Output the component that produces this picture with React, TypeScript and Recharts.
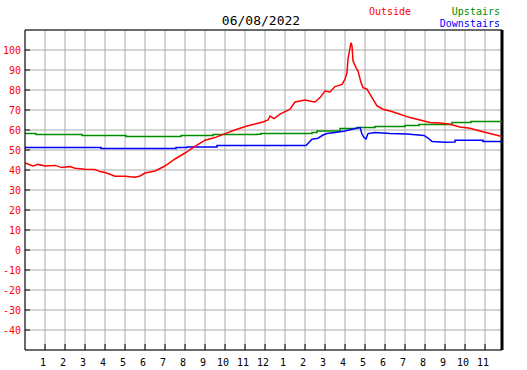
import React from "react";
import {
  LineChart,
  Line,
  XAxis,
  YAxis,
  CartesianGrid,
  ReferenceLine,
} from "recharts";

const TITLE = "06/08/2022";
const LAST_HOUR = 23.85;

// hour-of-day ticks (1..11, 12, 1..11)
const hourTicks = [1, 2, 3, 4, 5, 6, 7, 8, 9, 10, 11, 12, 13, 14, 15, 16, 17, 18, 19, 20, 21, 22, 23];
const tempTicks = [-40, -30, -20, -10, 0, 10, 20, 30, 40, 50, 60, 70, 80, 90, 100];

// Outside (red)
const outsideHours = [
  0, 0.4, 0.65, 1.0, 1.5, 1.85, 2.25, 2.5, 3.0, 3.5, 3.75, 4.0, 4.25, 4.5, 5.0, 5.5, 5.75, 6.0,
  6.5, 7.0, 7.5, 8.0, 8.4, 9.0, 9.5, 10.0, 10.6, 11.1, 11.9, 12.15, 12.25, 12.45, 12.75, 13.25,
  13.5, 14.0, 14.35, 14.5, 14.75, 15.0, 15.25, 15.5, 15.85, 16.0, 16.1, 16.15, 16.3, 16.35, 16.4,
  16.55, 16.65, 16.8, 16.9, 17.1, 17.35, 17.6, 17.9, 18.25, 18.75, 19.25, 19.75, 20.25, 20.75,
  21.25, 21.75, 22.25, 22.75, 23.25, 23.85,
];
const outsideTemps = [
  43.5, 42, 42.8, 42, 42.3, 41.2, 41.7, 40.9, 40.4, 40.2, 39.2, 38.7, 37.9, 36.9, 36.9, 36.4, 37, 38.5,
  39.5, 42, 45.5, 48.5, 51.2, 54.9, 56.2, 58.2, 60.4, 62, 64, 65, 67, 65.7, 67.9, 70.4,
  74, 75, 74.3, 74, 76.2, 79.5, 79, 81.7, 82.8, 85.4, 88.7, 95.4, 103.7, 102, 94.5,
  91.2, 89.5, 83.7, 81.2, 80.4, 76.2, 72, 70.4, 69.5, 67.9, 66.2, 65, 63.7, 63.5,
  62.9, 61.5, 60.9, 59.5, 58.2, 56.7,
];

// Upstairs (green), value holds until next reading
const upstairsHours = [0, 0.55, 2.85, 5.05, 7.8, 9.4, 11.6, 11.8, 14.35, 14.6, 15.75, 16.6, 17.5, 19.0, 19.7, 21.35, 22.3, LAST_HOUR];
const upstairsTemps = [58.2, 57.7, 57.2, 56.7, 57.2, 57.7, 57.9, 58.2, 58.7, 59.5, 60.7, 61.2, 61.7, 62.2, 62.7, 63.7, 64.2, 64.2];

// Downstairs (blue)
const downstairsHours = [
  0, 3.8, 3.8, 7.55, 7.55, 8.1, 8.1, 9.6, 9.6, 14.05, 14.35, 14.65, 14.9, 15.1, 15.5, 16.0, 16.5,
  16.75, 16.85, 16.95, 17.05, 17.15, 17.5, 18.25, 19.1, 19.95, 20.15, 20.35, 21.0, 21.5, 21.5,
  22.9, 22.9, LAST_HOUR,
];
const downstairsTemps = [
  51.2, 51.2, 50.7, 50.7, 51.2, 51.2, 51.5, 51.5, 52.2, 52.2, 55.4, 55.9, 57.5, 58.2, 58.7, 59.5, 60.7,
  61.2, 58, 56.2, 55.5, 58.2, 58.7, 58.2, 58.0, 57.3, 56.0, 54.3, 53.9, 54.0, 54.9,
  54.9, 54.3, 54.3,
];

const toPoints = (hours: number[], temps: number[]) =>
  hours.map((h, i) => ({ h, v: temps[i] }));

const outsideData = toPoints(outsideHours, outsideTemps);
const upstairsData = toPoints(upstairsHours, upstairsTemps);
const downstairsData = toPoints(downstairsHours, downstairsTemps);

const MONO = "'DejaVu Sans Mono', monospace";

function YTick({ x, y, payload }: any) {
  return (
    <g>
      <line x1={x} x2={x + 5} y1={y} y2={y} stroke="#000" />
      <text x={x - 4} y={y + 3.5} textAnchor="end" fill="#ff0000" fontSize={10} fontFamily={MONO}>
        {payload.value}
      </text>
    </g>
  );
}

function XTick({ x, y, payload }: any) {
  const h = payload.value as number;
  const label = h % 12 === 0 ? 12 : h % 12;
  return (
    <g>
      <line x1={x} x2={x} y1={y - 6} y2={y} stroke="#000" />
      <text x={x - 2} y={y + 15.5} textAnchor="middle" fill="#000" fontSize={10} fontFamily={MONO}>
        {label}
      </text>
    </g>
  );
}

export default function App() {
  return (
    <div style={{ position: "absolute", left: 0, top: 0, width: 527, height: 370, background: "#fff" }}>
      <LineChart
        width={527}
        height={370}
        margin={{ top: 30, right: 25, bottom: 0, left: 0 }}
      >
        <CartesianGrid stroke="#aaaaaa" strokeWidth={1} />
        <XAxis
          dataKey="h"
          type="number"
          domain={[0, LAST_HOUR]}
          ticks={hourTicks}
          interval={0}
          height={20}
          tickSize={0}
          tickMargin={0}
          tick={<XTick />}
          axisLine={{ stroke: "#000", strokeWidth: 1 }}
          allowDataOverflow
        />
        <YAxis
          type="number"
          domain={[-50, 110]}
          ticks={tempTicks}
          interval={0}
          width={25}
          tickSize={0}
          tickMargin={0}
          tick={<YTick />}
          axisLine={{ stroke: "#000", strokeWidth: 1 }}
          allowDataOverflow
        />
        <ReferenceLine y={110} stroke="#000" strokeWidth={1} />
        <ReferenceLine x={LAST_HOUR} stroke="#000" strokeWidth={3} />
        <Line
          data={upstairsData}
          dataKey="v"
          type="stepAfter"
          stroke="#008c00"
          strokeWidth={1.5}
          dot={false}
          isAnimationActive={false}
        />
        <Line
          data={downstairsData}
          dataKey="v"
          type="linear"
          stroke="#0000ff"
          strokeWidth={1.5}
          dot={false}
          isAnimationActive={false}
        />
        <Line
          data={outsideData}
          dataKey="v"
          type="linear"
          stroke="#ff0000"
          strokeWidth={1.5}
          dot={false}
          isAnimationActive={false}
        />
      </LineChart>
      <svg
        width={527}
        height={30}
        style={{ position: "absolute", left: 0, top: 0, pointerEvents: "none" }}
      >
        <text x={261} y={25} textAnchor="middle" fill="#000" fontSize={13} fontFamily={MONO}>
          {TITLE}
        </text>
        <text x={369} y={15} fill="#ff0000" fontSize={10} fontFamily={MONO}>
          Outside
        </text>
        <text x={500} y={15} textAnchor="end" fill="#008c00" fontSize={10} fontFamily={MONO}>
          Upstairs
        </text>
        <text x={500} y={27} textAnchor="end" fill="#0000ff" fontSize={10} fontFamily={MONO}>
          Downstairs
        </text>
      </svg>
    </div>
  );
}
